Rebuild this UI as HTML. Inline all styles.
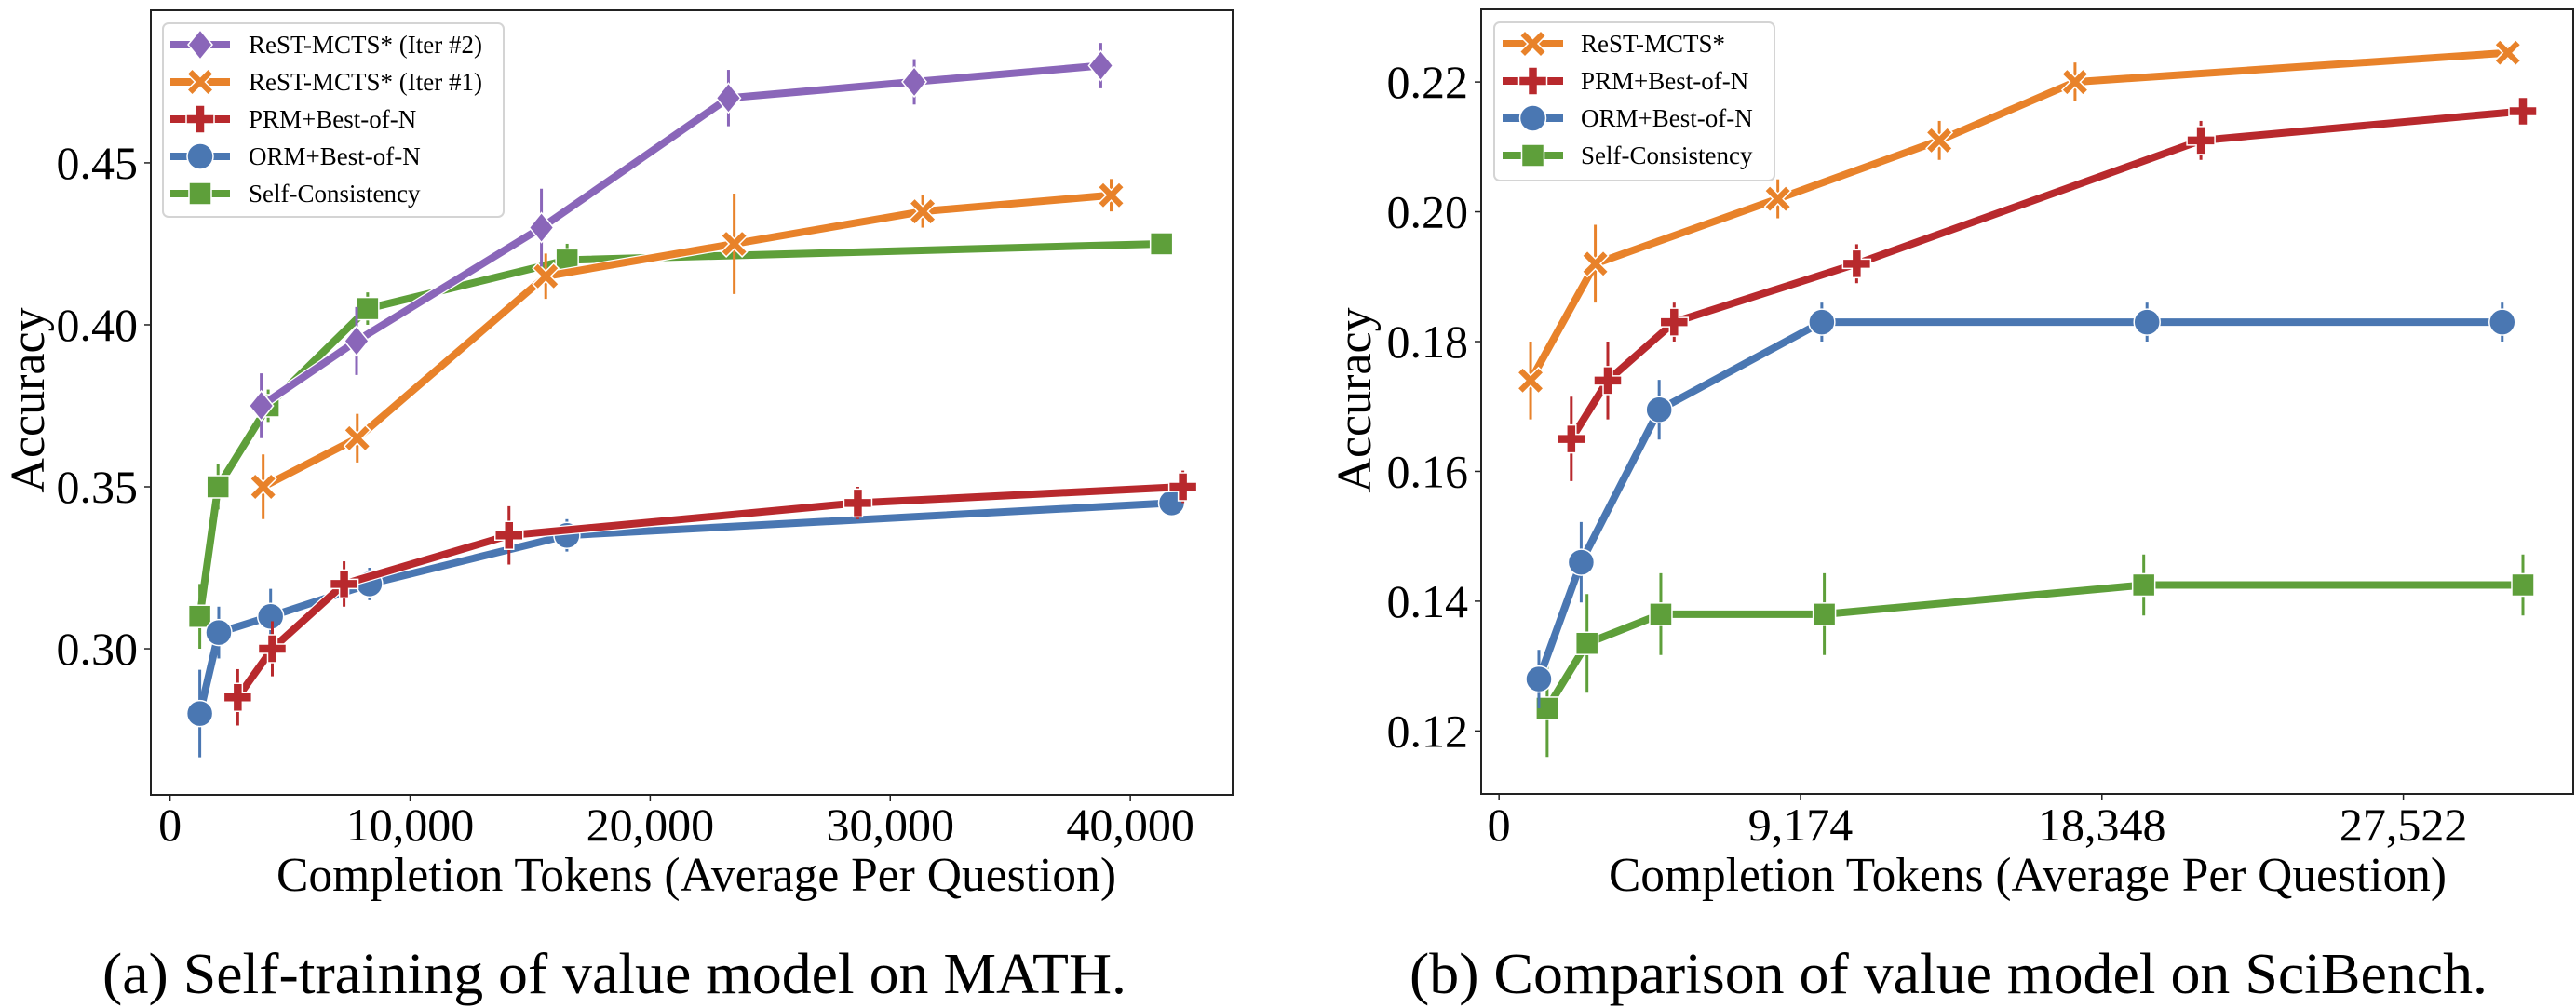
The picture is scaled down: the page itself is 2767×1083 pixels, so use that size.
<!DOCTYPE html>
<html><head><meta charset="utf-8"><style>
html,body{margin:0;padding:0;background:#fff;}
svg{display:block;font-family:"Liberation Serif","Times New Roman",serif;}
</style></head>
<body>
<svg id="fig" width="2767" height="1083" viewBox="0 0 2767 1083" xmlns="http://www.w3.org/2000/svg">
<g id="panelA"></g>
<g id="panelB"></g>
</svg>
<script>
// ---------- Panel A data (MATH) ----------
const aSeriesNames = ["ReST-MCTS* (Iter #2)","ReST-MCTS* (Iter #1)","PRM+Best-of-N","ORM+Best-of-N","Self-Consistency"];
const aIter2X = [3800, 7770, 15470, 23260, 31000, 38770];
const aIter2Y = [0.375, 0.395, 0.43, 0.47, 0.475, 0.48];
const aIter2E = [0.010, 0.0105, 0.012, 0.0087, 0.007, 0.007];
const aIter1X = [3880, 7800, 15650, 23500, 31350, 39200];
const aIter1Y = [0.35, 0.365, 0.415, 0.425, 0.435, 0.44];
const aIter1E = [0.010, 0.0075, 0.007, 0.0155, 0.005, 0.005];
const aPrmX = [2820, 4260, 7250, 14120, 28650, 42190];
const aPrmY = [0.285, 0.30, 0.32, 0.335, 0.345, 0.35];
const aPrmE = [0.0087, 0.0085, 0.007, 0.009, 0.005, 0.005];
const aOrmX = [1240, 2030, 4190, 8310, 16530, 41720];
const aOrmY = [0.28, 0.305, 0.31, 0.32, 0.335, 0.345];
const aOrmE = [0.0135, 0.008, 0.0085, 0.005, 0.005, 0.003];
const aScX = [1240, 2000, 4090, 8230, 16540, 41300];
const aScY = [0.31, 0.35, 0.375, 0.405, 0.42, 0.425];
const aScE = [0.010, 0.007, 0.005, 0.005, 0.005, 0.003];
const aXTicks = [0, 10000, 20000, 30000, 40000];
const aXTickLabels = ["0", "10,000", "20,000", "30,000", "40,000"];
const aYTicks = [0.30, 0.35, 0.40, 0.45];
const aYTickLabels = ["0.30", "0.35", "0.40", "0.45"];

// ---------- Panel B data (SciBench) ----------
const bSeriesNames = ["ReST-MCTS*","PRM+Best-of-N","ORM+Best-of-N","Self-Consistency"];
const bRestX = [960, 2930, 8485, 13400, 17530, 30700];
const bRestY = [0.174, 0.192, 0.202, 0.211, 0.22, 0.2245];
const bRestE = [0.006, 0.006, 0.003, 0.003, 0.003, 0.001];
const bPrmX = [2200, 3310, 5330, 10885, 21360, 31160];
const bPrmY = [0.165, 0.174, 0.183, 0.192, 0.211, 0.2155];
const bPrmE = [0.0065, 0.006, 0.003, 0.003, 0.003, 0.002];
const bOrmX = [1213, 2500, 4873, 9823, 19720, 30530];
const bOrmY = [0.128, 0.146, 0.1695, 0.183, 0.183, 0.183];
const bOrmE = [0.0045, 0.0062, 0.0046, 0.003, 0.003, 0.003];
const bScX = [1465, 2678, 4924, 9900, 19620, 31160];
const bScY = [0.1235, 0.1335, 0.138, 0.138, 0.1425, 0.1425];
const bScE = [0.0075, 0.0076, 0.0063, 0.0063, 0.0047, 0.0047];
const bXTicks = [0, 9174, 18348, 27522];
const bXTickLabels = ["0", "9,174", "18,348", "27,522"];
const bYTicks = [0.12, 0.14, 0.16, 0.18, 0.20, 0.22];
const bYTickLabels = ["0.12", "0.14", "0.16", "0.18", "0.20", "0.22"];

const COL = {purple:"#8a66b9", orange:"#e8822a", red:"#b8292d", blue:"#4a77b2", green:"#5e9f3a"};
const NS = "http://www.w3.org/2000/svg";
function mk(tag, attrs, parent){
  const e = document.createElementNS(NS, tag);
  for (const k in attrs) e.setAttribute(k, attrs[k]);
  parent.appendChild(e);
  return e;
}
function markerShape(type, cx, cy, color, parent){
  let el;
  const s = 14;
  if (type === "d") {
    el = mk("polygon", {points:`${cx},${cy-16} ${cx+13},${cy} ${cx},${cy+16} ${cx-13},${cy}`}, parent);
  } else if (type === "X") {
    const a = 14, w = 5.5;
    const p = [[-a+w,-a],[0,-w],[a-w,-a],[a,-a+w],[w,0],[a,a-w],[a-w,a],[0,w],[-a+w,a],[-a,a-w],[-w,0],[-a,-a+w]];
    el = mk("polygon", {points:p.map(q=>`${cx+q[0]},${cy+q[1]}`).join(" ")}, parent);
  } else if (type === "P") {
    const a = 15, w = 5;
    const p = [[-w,-a],[w,-a],[w,-w],[a,-w],[a,w],[w,w],[w,a],[-w,a],[-w,w],[-a,w],[-a,-w],[-w,-w]];
    el = mk("polygon", {points:p.map(q=>`${cx+q[0]},${cy+q[1]}`).join(" ")}, parent);
  } else if (type === "o") {
    el = mk("circle", {cx:cx, cy:cy, r:14}, parent);
  } else {
    el = mk("rect", {x:cx-12, y:cy-12, width:24, height:24}, parent);
  }
  el.setAttribute("fill", color);
  el.setAttribute("stroke", "#fff");
  el.setAttribute("stroke-width", "1.5");
  return el;
}

function drawPanel(root, cfg){
  const {L, T, R, B, xmin, xmax, ymin, ymax} = cfg;
  const sx = v => L + (v - xmin) / (xmax - xmin) * (R - L);
  const sy = v => B - (v - ymin) / (ymax - ymin) * (B - T);

  const frame = mk("rect", {x:L, y:T, width:R-L, height:B-T, fill:"#fff", stroke:"#222", "stroke-width":2}, root);
  
  

  const xAxis = mk("g", {}, root);
  
  
  cfg.xTicks.forEach((t, i) => {
    const x = sx(t);
    mk("line", {x1:x, y1:B, x2:x, y2:B+7, stroke:"#222", "stroke-width":1.5}, xAxis);
    const lab = mk("text", {x:x, y:903, "font-size":50, "text-anchor":"middle", fill:"#000"}, xAxis);
    lab.textContent = cfg.xTickLabels[i];
    
    
  });
  const yAxis = mk("g", {}, root);
  
  
  cfg.yTicks.forEach((t, i) => {
    const y = sy(t);
    mk("line", {x1:L-7, y1:y, x2:L, y2:y, stroke:"#222", "stroke-width":1.5}, yAxis);
    const lab = mk("text", {x:L-14, y:y+17, "font-size":50, "text-anchor":"end", fill:"#000"}, yAxis);
    lab.textContent = cfg.yTickLabels[i];
    
    
  });
  const yt = mk("text", {x:0, y:0, "font-size":52, "text-anchor":"middle", fill:"#000",
    transform:`translate(${cfg.yTitleX},430) rotate(-90)`}, root);
  yt.textContent = "Accuracy";
  
  
  const xt = mk("text", {x:cfg.xTitleX, y:957, "font-size":52, "text-anchor":"middle", fill:"#000",
    textLength:cfg.xTitleW, lengthAdjust:"spacingAndGlyphs"}, root);
  xt.textContent = "Completion Tokens (Average Per Question)";
  
  
  const cap = mk("text", {x:cfg.capX, y:1067, "font-size":62, "text-anchor":"middle", fill:"#000",
    textLength:cfg.capW, lengthAdjust:"spacingAndGlyphs"}, root);
  cap.textContent = cfg.caption;
  
  

  cfg.series.forEach(s => {
    const g = mk("g", {}, root);
    
    
    const pts = s.x.map((v, i) => `${sx(v)},${sy(s.y[i])}`).join(" ");
    const ln = mk("polyline", {points:pts, fill:"none", stroke:"#fff", "stroke-width":10.5, "stroke-linejoin":"round"}, g);
    const ln2 = mk("polyline", {points:pts, fill:"none", stroke:s.color, "stroke-width":8, "stroke-linejoin":"round"}, g);
    
    
    s.x.forEach((v, i) => {
      const x = sx(v);
      const eb = mk("line", {x1:x, y1:sy(s.y[i]-s.e[i]), x2:x, y2:sy(s.y[i]+s.e[i]), stroke:s.color, "stroke-width":3}, g);
      
      
    });
    s.x.forEach((v, i) => {
      const m = markerShape(s.marker, sx(v), sy(s.y[i]), s.color, g);
      
      
    });
  });

  const lg = mk("g", {}, root);
  
  
  const lb = cfg.legend;
  mk("rect", {x:lb.x, y:lb.y, width:lb.w, height:lb.h, rx:6, fill:"#fff", "fill-opacity":0.9, stroke:"#d4d4d4", "stroke-width":2}, lg);
  cfg.legendOrder.forEach((s, i) => {
    const cy = lb.y + 23 + i * 40;
    const ent = mk("g", {}, lg);
    
    
    mk("line", {x1:lb.hx1, y1:cy, x2:lb.hx2, y2:cy, stroke:s.color, "stroke-width":8}, ent);
    markerShape(s.marker, (lb.hx1+lb.hx2)/2, cy, s.color, ent);
    const t = mk("text", {x:lb.tx, y:cy+9, "font-size":27, fill:"#000"}, ent);
    t.textContent = s.name;
  });
}

const aSeries = {
  iter2:{name:aSeriesNames[0], x:aIter2X, y:aIter2Y, e:aIter2E, color:COL.purple, marker:"d"},
  iter1:{name:aSeriesNames[1], x:aIter1X, y:aIter1Y, e:aIter1E, color:COL.orange, marker:"X"},
  prm:{name:aSeriesNames[2], x:aPrmX, y:aPrmY, e:aPrmE, color:COL.red, marker:"P"},
  orm:{name:aSeriesNames[3], x:aOrmX, y:aOrmY, e:aOrmE, color:COL.blue, marker:"o"},
  sc:{name:aSeriesNames[4], x:aScX, y:aScY, e:aScE, color:COL.green, marker:"s"}
};
drawPanel(document.getElementById("panelA"), {
  L:162, T:11, R:1324, B:854, xmin:-800, xmax:44260, ymin:0.2549, ymax:0.4971,
  xTicks:aXTicks, xTickLabels:aXTickLabels, yTicks:aYTicks, yTickLabels:aYTickLabels,
  yTitleX:47, xTitleX:748, xTitleW:902, capX:660, capW:1100,
  caption:"(a) Self-training of value model on MATH.",
  series:[aSeries.sc, aSeries.orm, aSeries.prm, aSeries.iter1, aSeries.iter2],
  legendOrder:[aSeries.iter2, aSeries.iter1, aSeries.prm, aSeries.orm, aSeries.sc],
  legend:{x:175, y:25, w:366, h:208, hx1:183, hx2:247, tx:267}
});

const bSeries = {
  rest:{name:bSeriesNames[0], x:bRestX, y:bRestY, e:bRestE, color:COL.orange, marker:"X"},
  prm:{name:bSeriesNames[1], x:bPrmX, y:bPrmY, e:bPrmE, color:COL.red, marker:"P"},
  orm:{name:bSeriesNames[2], x:bOrmX, y:bOrmY, e:bOrmE, color:COL.blue, marker:"o"},
  sc:{name:bSeriesNames[3], x:bScX, y:bScY, e:bScE, color:COL.green, marker:"s"}
};
drawPanel(document.getElementById("panelB"), {
  L:1591, T:10, R:2764, B:853, xmin:-543, xmax:32690, ymin:0.1103, ymax:0.2312,
  xTicks:bXTicks, xTickLabels:bXTickLabels, yTicks:bYTicks, yTickLabels:bYTickLabels,
  yTitleX:1472, xTitleX:2178, xTitleW:900, capX:2093, capW:1158,
  caption:"(b) Comparison of value model on SciBench.",
  series:[bSeries.sc, bSeries.orm, bSeries.prm, bSeries.rest],
  legendOrder:[bSeries.rest, bSeries.prm, bSeries.orm, bSeries.sc],
  legend:{x:1605, y:24, w:301, h:170, hx1:1614, hx2:1679, tx:1698}
});
</script>
</body></html>
